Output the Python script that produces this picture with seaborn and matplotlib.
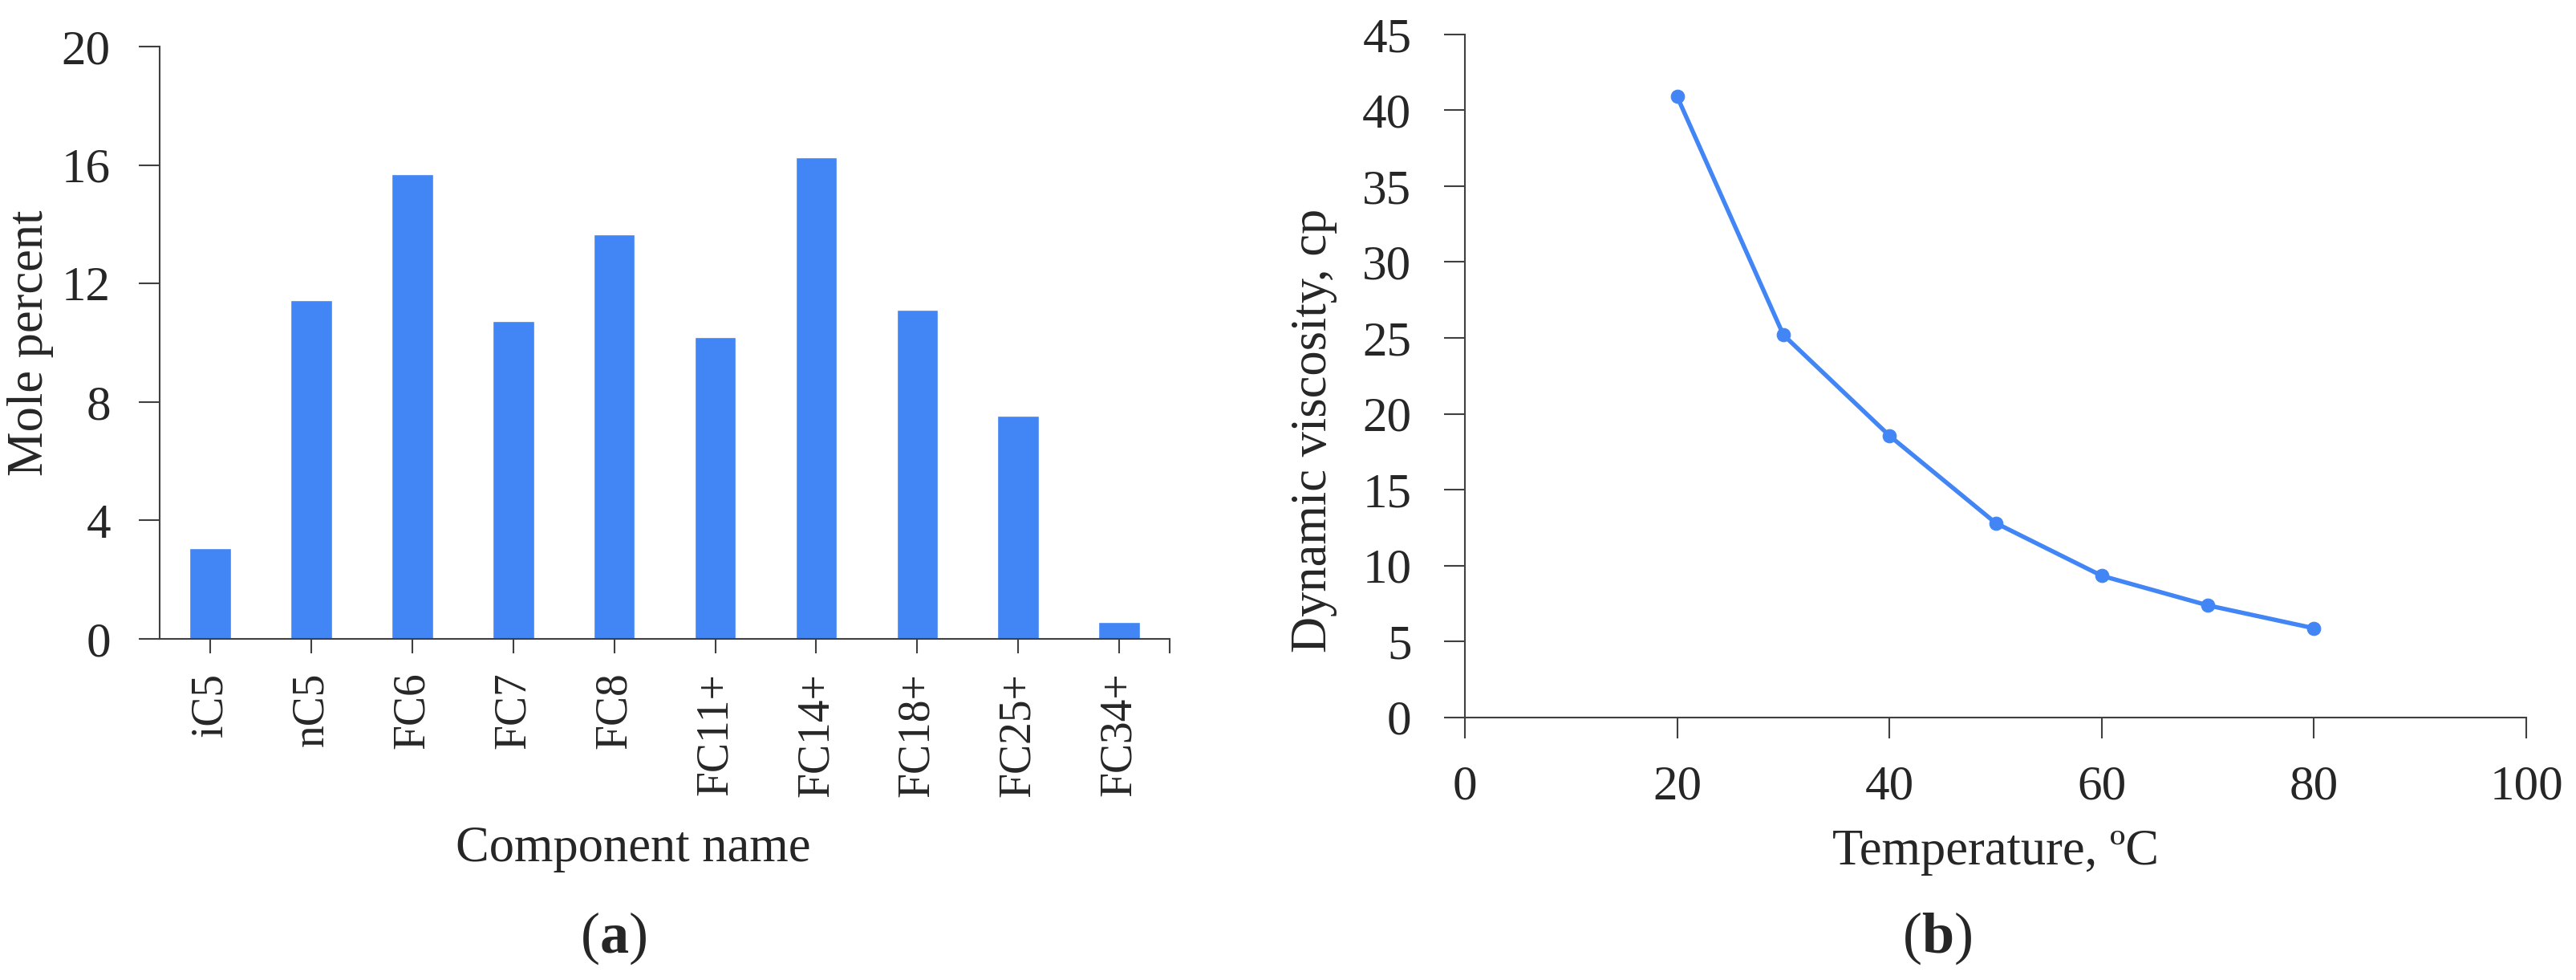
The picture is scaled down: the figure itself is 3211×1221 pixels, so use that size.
import numpy as np
import pandas as pd
import matplotlib
matplotlib.use('Agg')
import matplotlib.pyplot as plt
import seaborn as sns

# Data
components = ['iC5', 'nC5', 'FC6', 'FC7', 'FC8', 'FC11+', 'FC14+', 'FC18+', 'FC25+', 'FC34+']
mole_percent = [3.07, 11.43, 15.68, 10.72, 13.65, 10.2, 16.26, 11.12, 7.53, 0.56]

temperature = [20, 30, 40, 50, 60, 70, 80]
viscosity = [40.9, 25.2, 18.55, 12.8, 9.32, 7.37, 5.86]

blue = '#4285F4'
axis_color = '#404040'

sns.set_style('ticks')
plt.rcParams['font.family'] = ['Liberation Serif', 'DejaVu Serif']
plt.rcParams['mathtext.fontset'] = 'custom'
plt.rcParams['mathtext.rm'] = 'Liberation Serif'
plt.rcParams['mathtext.bf'] = 'Liberation Serif:bold'

fig = plt.figure(figsize=(32.11, 12.21), dpi=100)
ax1 = fig.add_axes([0.0620, 0.3481, 0.3921, 0.6044])
ax2 = fig.add_axes([0.5687, 0.2682, 0.4120, 0.6966])

# (a) bar chart
df_a = pd.DataFrame({'Component': components, 'Mole percent': mole_percent})
sns.barplot(data=df_a, x='Component', y='Mole percent', color=blue, saturation=1,
            width=0.41, ax=ax1)
ax1.set_xlim(-0.5, len(components) - 0.5)
ax1.set_ylim(0, 20)
ax1.set_yticks([0, 4, 8, 12, 16, 20])
ax1.set_xticks(range(len(components)))
ax1.set_xticklabels(components, rotation=90, fontsize=40)
ax1.set_xticks([len(components) - 0.5], minor=True)
ax1.tick_params(axis='y', labelsize=44, length=19, width=1.5, pad=25, color=axis_color)
ax1.tick_params(axis='x', which='both', length=13, width=1.5, pad=17, color=axis_color)
ax1.set_xlabel('Component name', fontsize=45)
ax1.set_ylabel('Mole percent', fontsize=45)
ax1.xaxis.label.set_va('baseline')
ax1.xaxis.set_label_coords(0.469, -0.375)
ax1.yaxis.label.set_va('center')
ax1.yaxis.set_label_coords(-0.128, 0.5)

# (b) line chart
df_b = pd.DataFrame({'Temperature': temperature, 'Viscosity': viscosity})
sns.lineplot(data=df_b, x='Temperature', y='Viscosity', color=blue, linewidth=3.9,
             marker='o', markersize=12, markeredgecolor=blue, ax=ax2)
ax2.set_xlim(0, 100)
ax2.set_ylim(0, 45)
ax2.set_xticks(np.arange(0, 101, 20))
ax2.set_yticks(np.arange(0, 46, 5))
ax2.tick_params(axis='y', labelsize=44, length=19, width=1.5, pad=29, color=axis_color)
ax2.tick_params(axis='x', labelsize=44, length=19, width=1.5, pad=24, color=axis_color)
ax2.set_xlabel('Temperature, ºC', fontsize=45)
ax2.set_ylabel('Dynamic viscosity, cp', fontsize=45)
ax2.xaxis.label.set_va('baseline')
ax2.xaxis.set_label_coords(0.5, -0.2152)
ax2.yaxis.label.set_va('center')
ax2.yaxis.set_label_coords(-0.142, 0.42)

for ax in (ax1, ax2):
    sns.despine(ax=ax)
    for side in ('left', 'bottom'):
        ax.spines[side].set_color(axis_color)
        ax.spines[side].set_linewidth(1.5)

fig.text(765 / 3211, 1 - 1187 / 1221, r'($\mathbf{a}$)', fontsize=52, ha='center', va='baseline')
fig.text(2415 / 3211, 1 - 1187 / 1221, r'($\mathbf{b}$)', fontsize=52, ha='center', va='baseline')

fig.savefig('out.png', dpi=100, facecolor='white')
